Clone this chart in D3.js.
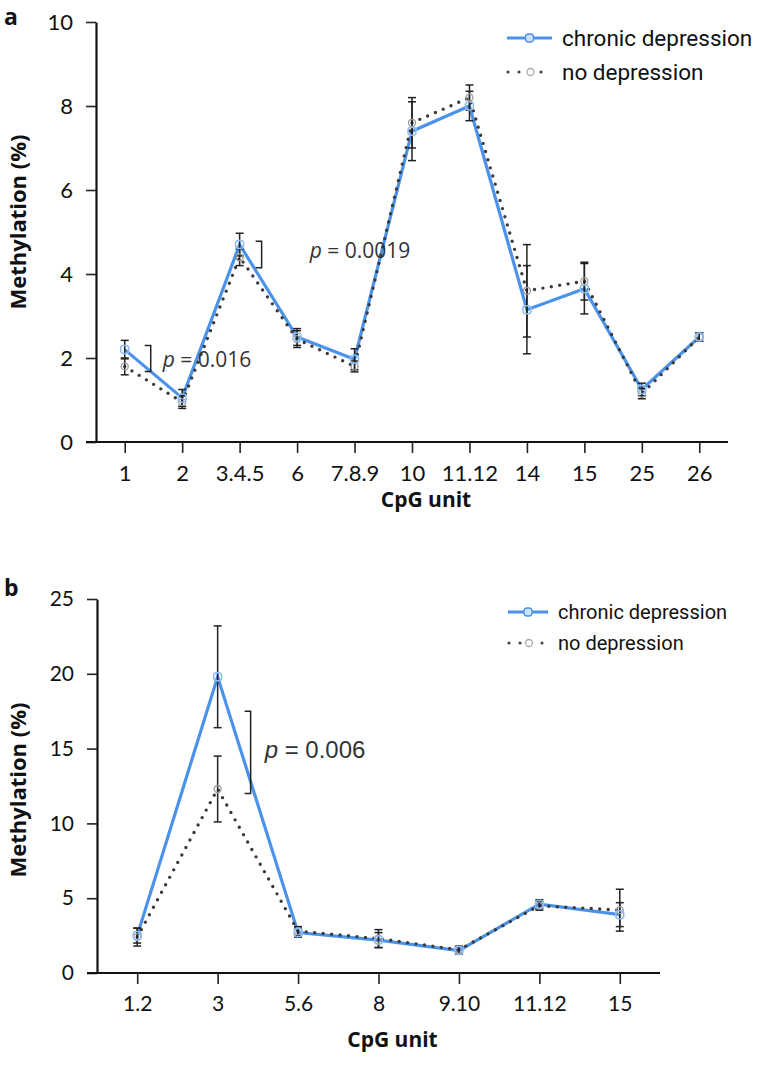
<!DOCTYPE html>
<html>
<head>
<meta charset="utf-8">
<script src="https://cdn.jsdelivr.net/npm/d3@7"></script>
<style>
  body { margin: 0; background: #fff; }
</style>
</head>
<body>
<script>
// panel a: CpG units
var catsA       = ["1", "2", "3.4.5", "6", "7.8.9", "10", "11.12", "14", "15", "25", "26"];
var chronicA    = [2.2, 1.05, 4.7, 2.5, 1.97, 7.4, 8.0, 3.15, 3.65, 1.25, 2.5];
var chronicErrA = [0.22, 0.2, 0.27, 0.2, 0.25, 0.7, 0.35, 1.05, 0.6, 0.15, 0.1];
var noneA       = [1.8, 0.95, 4.4, 2.45, 1.8, 7.6, 8.2, 3.6, 3.83, 1.15, 2.5];
var noneErrA    = [0.2, 0.15, 0.2, 0.2, 0.13, 0.6, 0.3, 1.1, 0.45, 0.12, 0.1];
var ticksA      = [0, 2, 4, 6, 8, 10];

// panel b
var catsB       = ["1.2", "3", "5.6", "8", "9.10", "11.12", "15"];
var chronicB    = [2.5, 19.8, 2.7, 2.2, 1.5, 4.6, 3.9];
var chronicErrB = [0.5, 3.4, 0.3, 0.5, 0.25, 0.3, 0.8];
var noneB       = [2.4, 12.3, 2.8, 2.3, 1.55, 4.5, 4.2];
var noneErrB    = [0.6, 2.2, 0.3, 0.6, 0.25, 0.3, 1.4];
var ticksB      = [0, 5, 10, 15, 20, 25];

var seriesNames = ["chronic depression", "no depression"];
var blue = "#4b93ea";

var svg = d3.select("body").append("svg")
  .attr("width", 758)
  .attr("height", 1065);

function drawPanel(cfg) {
  var g = svg.append("g");

  var x = d3.scalePoint()
    .domain(cfg.cats)
    .range([cfg.left, cfg.right])
    .padding(0.5);

  var y = d3.scaleLinear()
    .domain([0, cfg.ymax])
    .range([cfg.bottom, cfg.top]);

  // axes
  var yAxis = g.append("g")
    .attr("transform", "translate(" + cfg.left + ",0)")
    .call(d3.axisLeft(y).tickValues(cfg.ticks).tickSize(10).tickPadding(13).tickSizeOuter(0));
  yAxis.select(".domain").attr("stroke-width", 2.2).attr("stroke", "#111");
  yAxis.selectAll(".tick line").attr("stroke-width", 1.6).attr("stroke", "#222");
  yAxis.selectAll(".tick text")
    .attr("font-family", "Lato, 'Open Sans', sans-serif")
    .attr("font-size", cfg.tickFont)
    .attr("fill", "#111");

  var xAxis = g.append("g")
    .attr("transform", "translate(0," + cfg.bottom + ")")
    .call(d3.axisBottom(x).tickSize(11).tickPadding(12).tickSizeOuter(0));
  xAxis.select(".domain").attr("stroke-width", 2.2).attr("stroke", "#111")
    .attr("d", "M" + (cfg.left - 10) + ",0H" + cfg.right);
  xAxis.selectAll(".tick line").attr("stroke-width", 1.6).attr("stroke", "#222");
  xAxis.selectAll(".tick text")
    .attr("font-family", "Lato, 'Open Sans', sans-serif")
    .attr("font-size", cfg.tickFont)
    .attr("fill", "#111");

  // axis titles
  g.append("text")
    .attr("x", (cfg.left + cfg.right) / 2 + 14)
    .attr("y", cfg.bottom + cfg.xTitleOffset)
    .attr("text-anchor", "middle")
    .attr("font-family", "'Open Sans', sans-serif")
    .attr("font-weight", "bold")
    .attr("font-size", 21)
    .attr("fill", "#111")
    .text("CpG unit");

  g.append("text")
    .attr("transform", "translate(" + 26 + "," + cfg.yTitleY + ") rotate(-90)")
    .attr("text-anchor", "middle")
    .attr("font-family", "'Open Sans', sans-serif")
    .attr("font-weight", "bold")
    .attr("font-size", 22)
    .attr("fill", "#111")
    .text("Methylation (%)");

  // panel letter
  g.append("text")
    .attr("x", 4)
    .attr("y", cfg.letterY)
    .attr("font-family", "'Open Sans', sans-serif")
    .attr("font-weight", "bold")
    .attr("font-size", 23)
    .attr("fill", "#111")
    .text(cfg.letter);

  var line = d3.line()
    .x(function(d, i) { return x(cfg.cats[i]); })
    .y(function(d) { return y(d); });

  // chronic line
  g.append("path")
    .datum(cfg.chronic)
    .attr("fill", "none")
    .attr("stroke", blue)
    .attr("stroke-width", 3.2)
    .attr("d", line);

  // no depression dotted line
  g.append("path")
    .datum(cfg.none)
    .attr("fill", "none")
    .attr("stroke", "#3a3a3a")
    .attr("stroke-width", 3.4)
    .attr("stroke-linecap", "round")
    .attr("stroke-dasharray", "0,8.5")
    .attr("d", line);

  // error bars
  function errBars(vals, errs) {
    var eb = g.append("g").selectAll("g")
      .data(vals)
      .enter().append("g")
      .attr("stroke", "#222")
      .attr("stroke-width", 1.5);
    eb.append("line")
      .attr("x1", function(d, i) { return x(cfg.cats[i]); })
      .attr("x2", function(d, i) { return x(cfg.cats[i]); })
      .attr("y1", function(d, i) { return y(d + errs[i]); })
      .attr("y2", function(d, i) { return y(d - errs[i]); });
    eb.append("line")
      .attr("x1", function(d, i) { return x(cfg.cats[i]) - 4; })
      .attr("x2", function(d, i) { return x(cfg.cats[i]) + 4; })
      .attr("y1", function(d, i) { return y(d + errs[i]); })
      .attr("y2", function(d, i) { return y(d + errs[i]); });
    eb.append("line")
      .attr("x1", function(d, i) { return x(cfg.cats[i]) - 4; })
      .attr("x2", function(d, i) { return x(cfg.cats[i]) + 4; })
      .attr("y1", function(d, i) { return y(d - errs[i]); })
      .attr("y2", function(d, i) { return y(d - errs[i]); });
  }
  errBars(cfg.chronic, cfg.chronicErr);
  errBars(cfg.none, cfg.noneErr);

  // markers
  g.append("g").selectAll("circle")
    .data(cfg.none)
    .enter().append("circle")
    .attr("cx", function(d, i) { return x(cfg.cats[i]); })
    .attr("cy", function(d) { return y(d); })
    .attr("r", 3.5)
    .attr("fill", "none")
    .attr("stroke", "#999")
    .attr("stroke-width", 1.3);

  g.append("g").selectAll("rect")
    .data(cfg.chronic)
    .enter().append("rect")
    .attr("x", function(d, i) { return x(cfg.cats[i]) - 4; })
    .attr("y", function(d) { return y(d) - 4; })
    .attr("width", 8)
    .attr("height", 8)
    .attr("rx", 3)
    .attr("fill", "none")
    .attr("stroke", "#8fbdf2")
    .attr("stroke-width", 1.5);

  // significance brackets
  cfg.brackets.forEach(function(b) {
    var bx = x(cfg.cats[b.cat]) + b.dx;
    g.append("path")
      .attr("fill", "none")
      .attr("stroke", "#222")
      .attr("stroke-width", 1.5)
      .attr("d", "M" + (bx - 6) + "," + y(b.hi) + "H" + bx + "V" + y(b.lo) + "H" + (bx - 6));
    var t = g.append("text")
      .attr("x", bx + b.tx)
      .attr("y", y(b.ty))
      .attr("dy", "0.35em")
      .attr("font-family", cfg.pFont)
      .attr("font-size", cfg.pSize)
      .attr("fill", "#333");
    t.append("tspan").attr("font-style", "italic").text("p");
    t.append("tspan").text(b.label);
  });

  // legend
  var lg = g.append("g").attr("transform", "translate(" + cfg.legX + "," + cfg.legY + ")");
  seriesNames.forEach(function(name, i) {
    var row = lg.append("g").attr("transform", "translate(0," + i * cfg.legGap + ")");
    if (i === 0) {
      row.append("line").attr("x1", 0).attr("x2", cfg.legLen)
        .attr("stroke", blue).attr("stroke-width", 3);
      row.append("rect").attr("x", cfg.legLen / 2 - 4).attr("y", -4)
        .attr("width", 8).attr("height", 8).attr("rx", 3)
        .attr("fill", "#cfe2fa").attr("stroke", blue).attr("stroke-width", 1.3);
    } else {
      row.append("line").attr("x1", 1).attr("x2", cfg.legLen)
        .attr("stroke", "#444").attr("stroke-width", 3.2)
        .attr("stroke-linecap", "round").attr("stroke-dasharray", "0,11");
      row.append("circle").attr("cx", cfg.legLen / 2 + 1).attr("r", 3.5)
        .attr("fill", "#fff").attr("stroke", "#aaa").attr("stroke-width", 1.3);
    }
    row.append("text")
      .attr("x", cfg.legLen + 10)
      .attr("dy", "0.35em")
      .attr("font-family", "Roboto, 'Liberation Sans', sans-serif")
      .attr("font-size", cfg.legFont)
      .attr("fill", "#111")
      .text(name);
  });
}

drawPanel({
  letter: "a", letterY: 25,
  cats: catsA, chronic: chronicA, chronicErr: chronicErrA, none: noneA, noneErr: noneErrA,
  ticks: ticksA, ymax: 10,
  left: 96, right: 728, top: 22, bottom: 442,
  tickFont: 22, xTitleOffset: 65, yTitleY: 222,
  pFont: "'Open Sans', sans-serif", pSize: 21,
  brackets: [
    { cat: 0, dx: 26, hi: 2.3, lo: 1.68, tx: 12, ty: 1.95, label: " = 0.016" },
    { cat: 2, dx: 22, hi: 4.78, lo: 4.15, tx: 48, ty: 4.55, label: " = 0.0019" }
  ],
  legX: 507, legY: 38, legGap: 34, legLen: 45, legFont: 22.5
});

drawPanel({
  letter: "b", letterY: 596,
  cats: catsB, chronic: chronicB, chronicErr: chronicErrB, none: noneB, noneErr: noneErrB,
  ticks: ticksB, ymax: 25,
  left: 97, right: 660, top: 599, bottom: 973,
  tickFont: 21, xTitleOffset: 74, yTitleY: 790,
  pFont: "'Liberation Sans', Arial, sans-serif", pSize: 24,
  brackets: [
    { cat: 1, dx: 33, hi: 17.5, lo: 12.0, tx: 14, ty: 14.9, label: " = 0.006" }
  ],
  legX: 508, legY: 612, legGap: 31, legLen: 40, legFont: 20
});
</script>
</body>
</html>
